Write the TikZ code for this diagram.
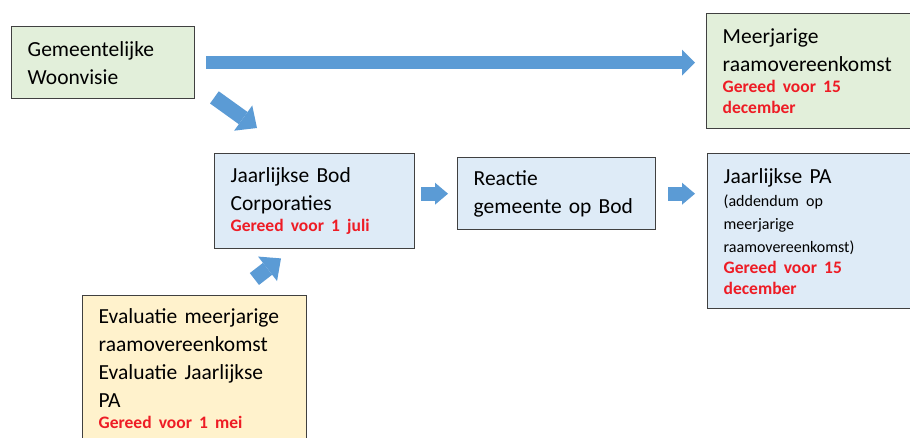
\documentclass[tikz,border=0pt]{standalone}
\usepackage{xcolor}
\usepackage{fontspec}
\setmainfont{Carlito}
\usepackage{tikz}
\usetikzlibrary{arrows.meta}

\definecolor{groen}{HTML}{E2EFDA}
\definecolor{blauw}{HTML}{DEEBF7}
\definecolor{geel}{HTML}{FFF2CC}
\definecolor{pijlkleur}{HTML}{5B9BD5}
\definecolor{rand}{HTML}{404040}
\definecolor{rood}{RGB}{238,28,37}
\newcommand{\rood}{\color{rood}\bfseries\fontsize{17.5}{21}\selectfont}
\newcommand{\klein}{\fontsize{16}{23}\selectfont}

\begin{document}
\begin{tikzpicture}[x=1pt,y=-1pt,
  box/.style={draw=rand, line width=1.4pt, anchor=north west, align=left, inner xsep=16pt, inner ysep=4pt, font=\fontsize{21.5}{28}\selectfont},
  groenbox/.style={box, fill=groen},
  blauwbox/.style={box, fill=blauw},
  geelbox/.style={box, fill=geel},
  pijl/.style={pijlkleur, line width=13pt, -{Triangle[width=26pt,length=13pt,line width=0pt]}},
  pijlklein/.style={pijlkleur, line width=14pt, -{Triangle[width=22pt,length=13pt,line width=0pt]}},
  pijlschuin/.style={pijlkleur, line width=15pt, -{Triangle[width=31pt,length=17pt,line width=0pt]}}]
\useasboundingbox[fill=white] (0,0) rectangle (910,437);
% vakken
\node[groenbox, text width=151, minimum height=72] (woon) at (11,26) {Gemeentelijke\\Woonvisie};
\node[groenbox, text width=183, minimum height=115] (meer) at (706,13) {Meerjarige\\raamovereenkomst\par{\rood Gereed voor 15\\december\par}};
\node[blauwbox, text width=168, minimum height=95] (bod) at (214,153) {Jaarlijkse Bod\\Corporaties\par{\rood Gereed voor 1 juli\par}};
\node[blauwbox, text width=166, minimum height=72] (reactie) at (457,157) {Reactie\\gemeente op Bod};
\node[blauwbox, text width=183, minimum height=155] (pa) at (707,153) {Jaarlijkse PA\par{\klein (addendum op\\meerjarige\\raamovereenkomst)\par}{\rood Gereed voor 15\\december\par}};
\node[geelbox, text width=192, minimum height=174] (eval) at (82,295) {Evaluatie meerjarige\\raamovereenkomst\\Evaluatie Jaarlijkse\\PA\par{\rood Gereed voor 1 mei\par}\rule{0pt}{1pt}};
% pijlen
\draw[pijl, shorten <=11pt, shorten >=11pt] (woon.east) -- (woon.east -| meer.west);
\draw[pijlschuin] ([shift={(19,-2)}]woon.south east) -- ([shift={(43,-25)}]bod.north west);
\draw[pijlklein, shorten <=6pt, shorten >=9pt] (reactie.west -| bod.east) -- (reactie.west);
\draw[pijlklein, shorten <=12pt, shorten >=12pt] (reactie.east) -- (reactie.east -| pa.west);
\draw[pijlschuin] ([shift={(-53,-16)}]eval.north east) -- ([shift={(67,9)}]bod.south west);
\end{tikzpicture}
\end{document}
